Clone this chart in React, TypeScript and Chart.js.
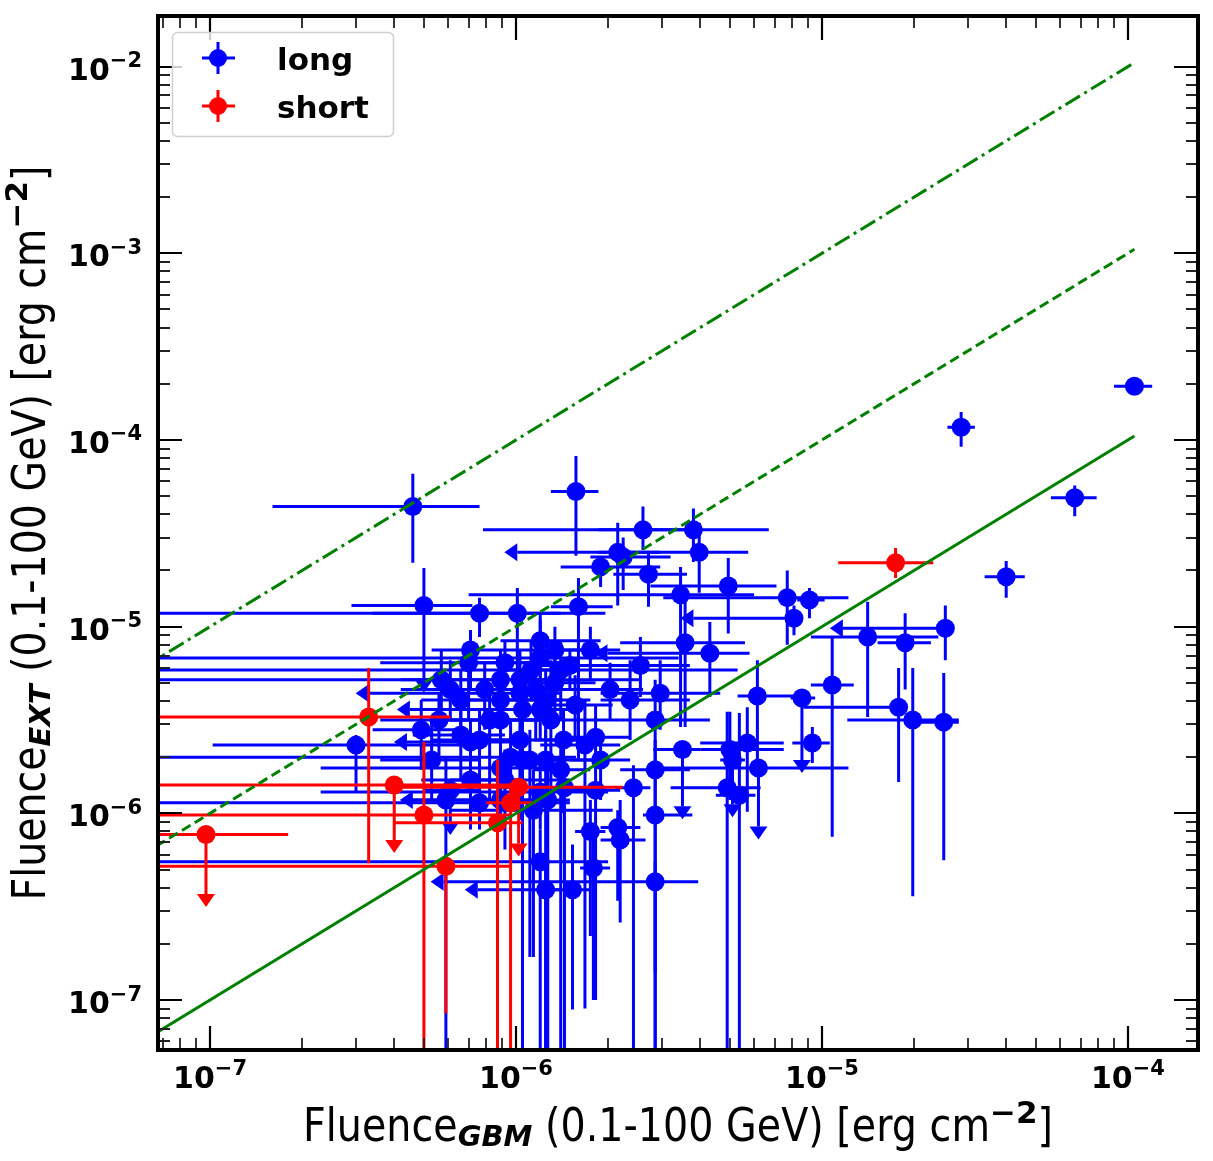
import React, { useEffect, useRef } from "react";
import { Chart, registerables } from "chart.js";

Chart.register(...registerables);

// ---------------- data: long GRBs ----------------
const longX = [1.05e-4, 2.85e-5, 6.7e-5, 4.0e-5, 4.6e-7, 1.57e-6, 2.6e-6, 3.8e-6, 2.15e-6, 2.24e-6,
  1.89e-6, 3.97e-6, 2.71e-6, 4.94e-6, 3.45e-6, 5.0e-7, 7.6e-7, 1.01e-6, 1.6e-6, 3.57e-6,
  4.3e-6, 1.41e-5, 1.87e-5, 2.53e-5, 7.7e-6, 9.1e-6, 8.1e-6, 1.08e-5, 6.15e-6, 8.6e-6,
  1.78e-5, 1.98e-5, 2.5e-5, 9.3e-6, 3.5e-6, 5.0e-6, 5.7e-6, 6.2e-6, 4.9e-6, 5.37e-6,
  5.1e-6, 2.85e-6, 2.96e-6, 2.85e-6, 2.85e-6, 2.85e-6, 2.42e-6, 2.19e-6, 1.79e-6, 1.25e-6,
  1.53e-6, 1.82e-6, 1.75e-6, 2.15e-6, 1.14e-6, 7.0e-7, 1.2e-6, 1.4e-6, 8.9e-7, 9.6e-7,
  7.6e-7, 1.2e-6, 3.0e-7, 1.03e-6, 1.2e-6, 7.1e-7, 6.6e-7, 8.2e-7, 5.3e-7, 7.1e-7,
  1.16e-6, 1.3e-6, 1.03e-6, 1.25e-6, 9.2e-7, 1.4e-6, 1.68e-6, 5.6e-7, 8.9e-7, 7.6e-7,
  1.12e-6, 6.1e-7, 1.82e-6, 2.36e-6, 2.55e-6, 1.5e-6, 5.9e-7, 1.05e-6, 1.27e-6, 1.44e-6,
  8.9e-7, 6.1e-7, 8.9e-7, 1.2e-6, 1.34e-6, 1.05e-6, 1.56e-6, 9.2e-7, 4.9e-7,
  7.1e-7, 1.2e-6, 1.34e-6, 1.25e-6, 8.9e-7, 6.6e-7, 1.03e-6, 7.9e-7, 1.11e-6, 1.43e-6,
  1.89e-6, 2.03e-6, 5.7e-7, 1.75e-6];
const longY = [1.94e-4, 1.17e-4, 4.9e-5, 1.85e-5, 4.4e-5, 5.3e-5, 3.3e-5, 3.3e-5, 2.5e-5, 2.36e-5,
  2.09e-5, 2.5e-5, 1.91e-5, 1.65e-5, 1.48e-5, 1.3e-5, 1.18e-5, 1.18e-5, 1.28e-5, 8.2e-6,
  7.2e-6, 8.8e-6, 8.2e-6, 9.8e-6, 1.43e-5, 1.39e-5, 1.11e-5, 4.87e-6, 4.25e-6, 4.15e-6,
  3.7e-6, 3.16e-6, 3.08e-6, 2.38e-6, 2.2e-6, 2.2e-6, 2.38e-6, 1.75e-6, 1.37e-6, 1.25e-6,
  1.93e-6, 3.16e-6, 4.4e-6, 1.71e-6, 9.8e-7, 4.3e-7, 1.37e-6, 7.2e-7, 5.1e-7, 3.9e-7,
  3.9e-7, 2.56e-6, 8.0e-7, 8.4e-7, 1.04e-6, 6.4e-6, 6.8e-6, 5.86e-6, 5.2e-6, 2.0e-6,
  1.14e-6, 5.5e-7, 2.32e-6, 4.4e-6, 3.6e-6, 2.41e-6, 4.05e-6, 3.16e-6, 1.93e-6, 1.51e-6,
  4.6e-6, 3.16e-6, 2.47e-6, 1.93e-6, 1.51e-6, 1.71e-6, 2.32e-6, 3.16e-6, 4.05e-6, 2.47e-6,
  5.86e-6, 4.6e-6, 1.33e-6, 4.05e-6, 6.2e-6, 6.2e-6, 1.18e-6, 1.93e-6, 1.18e-6, 1.37e-6,
  1.18e-6, 1.33e-6, 1.75e-6, 1.3e-6, 5.0e-6, 3.6e-6, 3.8e-6, 6.4e-6, 2.8e-6,
  7.5e-6, 8.4e-6, 7.5e-6, 4.05e-6, 3.16e-6, 2.63e-6, 5.2e-6, 4.6e-6, 1.93e-6, 2.47e-6,
  1.93e-6, 4.6e-6, 5.2e-6, 7.5e-6];
const longXLo = [9.0e-5, 2.57e-5, 5.6e-5, 3.4e-5, 1.6e-7, 1.3e-6, 1.86e-6, 7.8e-7, 1.86e-6, 1.75e-6,
  1.4e-6, 1.01e-6, 2.08e-6, 2.75e-6, 7.0e-7, 2.9e-7, 3e-8, 3.4e-7, 1.3e-6, 2.19e-6,
  1.99e-6, 9.2e-6, 1.52e-5, 1.17e-5, 3.03e-6, 8.3e-6, 3.8e-6, 9.2e-6, 5.3e-6, 7.9e-6,
  8.7e-6, 1.21e-5, 2.1e-5, 8.0e-6, 2.81e-6, 4.0e-6, 4.0e-6, 2.75e-6, 3.2e-6, 4.5e-6,
  4.65e-6, 2.19e-6, 1.89e-6, 2.19e-6, 2.6e-6, 5.8e-7, 2.11e-6, 1.89e-6, 1.62e-6, 7.5e-7,
  1.34e-6, 1.4e-6, 1.56e-6, 1.89e-6, 6.1e-7, 3.6e-7, 3e-8, 3e-8, 3e-8, 3e-8,
  3e-8, 3e-8, 1.02e-7, 3.3e-7, 4.5e-7, 4.4e-7, 4.9e-7, 5.7e-7, 3.6e-7, 4.9e-7,
  7.6e-7, 8.9e-7, 7.1e-7, 8.9e-7, 6.1e-7, 1.14e-6, 1.2e-6, 3.6e-7, 6.6e-7, 5.3e-7,
  8.9e-7, 4.2e-7, 1.5e-6, 1.89e-6, 1.89e-6, 1.11e-6, 4.4e-7, 8.9e-7, 1.05e-6, 1.25e-6,
  4.6e-7, 5.0e-7, 2.3e-7, 2.3e-7, 1.02e-6, 7.6e-7, 1.2e-6, 6.6e-7, 3.4e-7,
  5.3e-7, 8.9e-7, 1.03e-6, 9.2e-7, 6.1e-7, 4.6e-7, 7.6e-7, 5.7e-7, 8.9e-7, 1.14e-6,
  1.5e-6, 1.6e-6, 4.2e-7, 1.4e-6];
const longXHi = [1.2e-4, 3.16e-5, 7.9e-5, 4.6e-5, 7.6e-7, 1.86e-6, 3.7e-6, 6.7e-6, 2.96e-6, 3.2e-6,
  2.96e-6, 5.74e-6, 3.62e-6, 7.1e-6, 6.0e-6, 7.2e-7, 1.96e-6, 1.4e-6, 2.07e-6, 5.6e-6,
  5.8e-6, 2.4e-5, 2.27e-5, 2.53e-5, 1.22e-5, 1.02e-5, 8.1e-6, 1.27e-5, 8.9e-6, 9.5e-6,
  1.8e-5, 2.8e-5, 2.8e-5, 1.06e-5, 4.0e-6, 7.5e-6, 7.5e-6, 1.22e-5, 6.3e-6, 6.06e-6,
  5.6e-6, 4.3e-6, 4.65e-6, 3.7e-6, 3.77e-6, 3.94e-6, 2.75e-6, 2.65e-6, 2.03e-6, 1.4e-6,
  1.75e-6, 2.36e-6, 1.96e-6, 2.55e-6, 2.07e-6, 1.4e-6, 3.4e-6, 5.3e-6, 2.55e-6, 1.57e-6,
  1.5e-6, 2.0e-6, 8.0e-7, 1.4e-6, 1.6e-6, 1.0e-6, 9.6e-7, 1.2e-6, 7.6e-7, 1.03e-6,
  1.89e-6, 2.19e-6, 1.6e-6, 1.82e-6, 1.5e-6, 1.75e-6, 2.19e-6, 8.9e-7, 1.4e-6, 1.1e-6,
  1.5e-6, 8.9e-7, 2.19e-6, 3.7e-6, 3.7e-6, 2.03e-6, 8.2e-7, 1.3e-6, 1.5e-6, 1.68e-6,
  1.3e-6, 7.6e-7, 1.4e-6, 2.0e-6, 1.82e-6, 1.5e-6, 2.07e-6, 1.3e-6, 6.6e-7,
  1.03e-6, 1.89e-6, 1.75e-6, 1.75e-6, 1.25e-6, 9.2e-7, 1.4e-6, 1.1e-6, 1.4e-6, 1.82e-6,
  2.36e-6, 2.6e-6, 7.6e-7, 2.19e-6];
const longYLo = [1.76e-4, 9.2e-5, 3.9e-5, 1.43e-5, 2.2e-5, 2.4e-5, 2.57e-5, 2.22e-5, 1.3e-5, 1.57e-5,
  1.63e-5, 1.52e-5, 1.28e-5, 9.2e-6, 2.9e-6, 5.2e-6, 8.8e-6, 5.0e-6, 1.93e-6, 2.9e-6,
  4.2e-6, 3.28e-6, 4.6e-6, 6.6e-6, 8.0e-6, 1.11e-5, 9.0e-6, 7.5e-7, 1.93e-6, 1.93e-6,
  1.47e-6, 3.6e-7, 5.6e-7, 1.86e-6, 1.09e-6, 1.18e-6, 1.02e-6, 8.5e-7, 3e-8, 3e-8,
  1.12e-6, 1.33e-6, 2.8e-6, 1.4e-7, 3e-8, 3e-8, 3e-8, 2.6e-7, 1.0e-7, 3e-8,
  8.9e-8, 1.71e-6, 2.2e-7, 3.4e-7, 1.7e-7, 3.16e-6, 4.05e-6, 3.16e-6, 2.47e-6, 1.18e-6,
  8.2e-7, 3e-8, 1.29e-6, 3.16e-6, 2.47e-6, 1.71e-6, 2.8e-6, 1.18e-6, 1.18e-6, 8.2e-7,
  2.47e-6, 1.18e-6, 9.2e-7, 3e-8, 6.4e-7, 3e-8, 9.0e-8, 2.0e-6, 2.63e-6, 1.51e-6,
  4.05e-6, 3.16e-6, 1.0e-7, 2.47e-6, 4.2e-6, 4.6e-6, 3e-8, 3e-8, 3e-8, 3e-8,
  8.2e-7, 9.0e-7, 1.18e-6, 8.2e-7, 3.16e-6, 2.2e-6, 2.47e-6, 4.6e-6, 1.71e-6,
  4.6e-6, 5.2e-6, 4.05e-6, 2.47e-6, 1.93e-6, 1.51e-6, 3.16e-6, 2.8e-6, 1.7e-7, 1.0e-6,
  1.18e-6, 3.16e-6, 3.6e-6, 5.2e-6];
const longYHi = [2.15e-4, 1.41e-4, 5.7e-5, 2.25e-5, 6.6e-5, 8.2e-5, 4.4e-5, 4.3e-5, 3.6e-5, 3.0e-5,
  2.36e-5, 3.6e-5, 2.5e-5, 2.33e-5, 2.09e-5, 2.06e-5, 1.43e-5, 1.61e-5, 1.82e-5, 1.36e-5,
  1.06e-5, 1.36e-5, 1.18e-5, 1.3e-5, 2.0e-5, 1.61e-5, 1.3e-5, 8.7e-6, 6.6e-6, 4.15e-6,
  6.0e-6, 6.0e-6, 5.65e-6, 2.9e-6, 2.2e-6, 3.5e-6, 3.7e-6, 1.75e-6, 3.5e-6, 3.45e-6,
  1.93e-6, 5.2e-6, 6.6e-6, 2.47e-6, 1.33e-6, 5.5e-7, 1.81e-6, 1.18e-6, 8.2e-7, 5.6e-7,
  6.8e-7, 3.8e-6, 1.18e-6, 1.04e-6, 1.71e-6, 6.8e-6, 1.09e-5, 8.4e-6, 7.5e-6, 3.16e-6,
  1.51e-6, 8.2e-7, 2.63e-6, 5.86e-6, 5.2e-6, 3.16e-6, 5.86e-6, 4.6e-6, 3.16e-6, 2.47e-6,
  8.4e-6, 6.6e-6, 4.05e-6, 2.8e-6, 2.2e-6, 2.47e-6, 4.05e-6, 4.4e-6, 6.6e-6, 3.6e-6,
  8.4e-6, 6.6e-6, 1.81e-6, 6.6e-6, 8.8e-6, 7.5e-6, 2.0e-6, 2.8e-6, 1.71e-6, 2.0e-6,
  1.51e-6, 1.33e-6, 2.47e-6, 1.81e-6, 7.5e-6, 5.2e-6, 5.5e-6, 8.4e-6, 4.05e-6,
  9.6e-6, 1.18e-5, 1.0e-5, 5.86e-6, 4.6e-6, 3.6e-6, 7.5e-6, 6.4e-6, 2.8e-6, 3.6e-6,
  2.8e-6, 6.4e-6, 7.5e-6, 1.0e-5];
// indices of upper limits (arrow down on y, arrow left on x)
const longYUpperIdx = [15, 29, 34, 37, 40, 91];
const longXUpperIdx = [11, 20, 23, 26, 45, 49, 63, 64, 65, 90];

// ---------------- data: short GRBs ----------------
const shortX = [9.7e-8, 3.3e-7, 4.0e-7, 5.0e-7, 5.9e-7, 8.7e-7, 9.6e-7, 1.02e-6, 1.74e-5];
const shortY = [7.7e-7, 3.28e-6, 1.42e-6, 9.8e-7, 5.2e-7, 8.9e-7, 1.14e-6, 1.38e-6, 2.2e-5];
const shortXLo = [6.5e-8, 3e-8, 3e-8, 3e-8, 3e-8, 4.0e-7, 8.0e-7, 4.2e-7, 1.13e-5];
const shortXHi = [1.8e-7, 6.1e-7, 1.03e-6, 9.6e-7, 9.6e-7, 1.05e-6, 1.16e-6, 2.23e-6, 2.31e-5];
const shortYLo = [3.7e-7, 5.4e-7, 7.2e-7, 3e-8, 8.5e-8, 3e-8, 3e-8, 6.9e-7, 1.82e-5];
const shortYHi = [7.7e-7, 6.0e-6, 1.42e-6, 2.41e-6, 5.85e-7, 1.93e-6, 1.4e-6, 1.38e-6, 2.64e-5];
const shortYUpperIdx = [0, 2, 7];
const shortXUpperIdx: number[] = [];

// ---------------- reference lines (ratio 1, 10, 100) ----------------
const refX = [5e-8, 1.05e-4];
const ref1Y = [5e-8, 1.05e-4];
const ref10Y = [5e-7, 1.05e-3];
const ref100Y = [5e-6, 1.05e-2];

// axis limits
const X_MIN = 6.76e-8;
const X_MAX = 1.694e-4;
const Y_MIN = 5.4e-8;
const Y_MAX = 1.866e-2;
const xDecades = [-7, -6, -5, -4];
const yDecades = [-7, -6, -5, -4, -3, -2];

const BLUE = "#0000ff";
const RED = "#ff0000";
const GREEN = "#008000";
const FONT = "'DejaVu Sans', 'Noto Sans', sans-serif";

type ErrSet = {
  x: number[]; y: number[]; xLo: number[]; xHi: number[]; yLo: number[]; yHi: number[];
  yUp: number[]; xUp: number[]; color: string;
};

const errSets: Record<string, ErrSet> = {
  long: { x: longX, y: longY, xLo: longXLo, xHi: longXHi, yLo: longYLo, yHi: longYHi, yUp: longYUpperIdx, xUp: longXUpperIdx, color: BLUE },
  short: { x: shortX, y: shortY, xLo: shortXLo, xHi: shortXHi, yLo: shortYLo, yHi: shortYHi, yUp: shortYUpperIdx, xUp: shortXUpperIdx, color: RED },
};

const errorBarPlugin = {
  id: "errbars",
  beforeDatasetDraw(chart: any, args: any) {
    const ds = chart.data.datasets[args.index];
    const e = errSets[ds.label];
    if (!e) return;
    const { ctx, chartArea: a } = chart;
    const xs = chart.scales.x, ys = chart.scales.y;
    ctx.save();
    ctx.beginPath();
    ctx.rect(a.left, a.top, a.right - a.left, a.bottom - a.top);
    ctx.clip();
    ctx.strokeStyle = e.color;
    ctx.fillStyle = e.color;
    ctx.lineWidth = 3;
    ctx.lineCap = "butt";
    for (let i = 0; i < e.x.length; i++) {
      const px = xs.getPixelForValue(e.x[i]);
      const py = ys.getPixelForValue(e.y[i]);
      const x0 = xs.getPixelForValue(e.xLo[i]);
      const x1 = xs.getPixelForValue(e.xHi[i]);
      const y0 = ys.getPixelForValue(e.yLo[i]);
      const y1 = ys.getPixelForValue(e.yHi[i]);
      ctx.beginPath();
      ctx.moveTo(x0, py); ctx.lineTo(x1, py);
      ctx.moveTo(px, y0); ctx.lineTo(px, y1);
      ctx.stroke();
    }
    for (const i of e.yUp) {
      const px = xs.getPixelForValue(e.x[i]);
      const y0 = ys.getPixelForValue(e.yLo[i]);
      ctx.beginPath();
      ctx.moveTo(px - 9, y0); ctx.lineTo(px + 9, y0); ctx.lineTo(px, y0 + 13); ctx.closePath();
      ctx.fill();
    }
    for (const i of e.xUp) {
      const py = ys.getPixelForValue(e.y[i]);
      const x0 = xs.getPixelForValue(e.xLo[i]);
      ctx.beginPath();
      ctx.moveTo(x0, py - 9); ctx.lineTo(x0, py + 9); ctx.lineTo(x0 - 13, py); ctx.closePath();
      ctx.fill();
    }
    ctx.restore();
  },
};

type Seg = { t: string; f: string; main?: boolean; dy: number };

function drawRich(ctx: CanvasRenderingContext2D, segs: Seg[], target: number) {
  let mainW = 0, other = 0;
  const widths = segs.map((s) => { ctx.font = s.f; const w = ctx.measureText(s.t).width; if (s.main) mainW += w; else other += w; return w; });
  const sx = (target - other) / mainW;
  let cur = -target / 2;
  segs.forEach((s, i) => {
    ctx.font = s.f;
    ctx.save();
    ctx.translate(cur, s.dy);
    if (s.main) ctx.scale(sx, 1);
    ctx.fillText(s.t, 0, 0);
    ctx.restore();
    cur += s.main ? widths[i] * sx : widths[i];
  });
}

function titleSegs(sub: string): Seg[] {
  return [
    { t: "Fluence", f: `46px ${FONT}`, main: true, dy: 0 },
    { t: sub, f: `italic bold 29px ${FONT}`, dy: 5 },
    { t: " (0.1-100 GeV) [erg cm", f: `46px ${FONT}`, main: true, dy: 0 },
    { t: "\u22122", f: `bold 31px ${FONT}`, dy: -18 },
    { t: "]", f: `46px ${FONT}`, main: true, dy: 0 },
  ];
}

const decorPlugin = {
  id: "decor",
  afterDraw(chart: any) {
    const { ctx, chartArea: a } = chart;
    const xs = chart.scales.x, ys = chart.scales.y;
    ctx.save();
    for (let n = -9; n <= -1; n++) {
      for (let k = 1; k <= 9; k++) {
        const v = k * Math.pow(10, n);
        const major = k === 1;
        const len = major ? 24 : 12;
        ctx.lineWidth = major ? 2.2 : 1.8;
        ctx.strokeStyle = major ? "#000" : "#222";
        if (v >= X_MIN && v <= X_MAX) {
          const px = Math.round(xs.getPixelForValue(v));
          ctx.beginPath();
          ctx.moveTo(px, a.bottom); ctx.lineTo(px, a.bottom - len);
          ctx.moveTo(px, a.top); ctx.lineTo(px, a.top + len);
          ctx.stroke();
        }
        if (v >= Y_MIN && v <= Y_MAX) {
          const py = Math.round(ys.getPixelForValue(v));
          ctx.beginPath();
          ctx.moveTo(a.left, py); ctx.lineTo(a.left + len, py);
          ctx.moveTo(a.right, py); ctx.lineTo(a.right - len, py);
          ctx.stroke();
        }
      }
    }
    ctx.lineWidth = 4;
    ctx.strokeStyle = "#000";
    ctx.strokeRect(a.left, a.top, a.right - a.left, a.bottom - a.top);

    ctx.fillStyle = "#000";
    ctx.textBaseline = "alphabetic";
    ctx.textAlign = "left";
    const bigF = `bold 30px ${FONT}`;
    const supF = `bold 21px ${FONT}`;
    const measure = (n: number) => {
      ctx.font = bigF; const w1 = ctx.measureText("10").width;
      ctx.font = supF; const w2 = ctx.measureText("\u2212" + Math.abs(n)).width;
      return [w1, w2];
    };
    for (const n of xDecades) {
      const px = xs.getPixelForValue(Math.pow(10, n));
      const [w1, w2] = measure(n);
      const s = px - (w1 + w2) / 2;
      ctx.font = bigF; ctx.fillText("10", s, 1088);
      ctx.font = supF; ctx.fillText("\u2212" + Math.abs(n), s + w1, 1075);
    }
    for (const n of yDecades) {
      const py = ys.getPixelForValue(Math.pow(10, n));
      const [w1, w2] = measure(n);
      const s = 142 - (w1 + w2);
      ctx.font = bigF; ctx.fillText("10", s, py + 13);
      ctx.font = supF; ctx.fillText("\u2212" + Math.abs(n), s + w1, py + 0.5);
    }

    ctx.save();
    ctx.translate((a.left + a.right) / 2, 1141);
    drawRich(ctx, titleSegs("GBM"), 750);
    ctx.restore();
    ctx.save();
    ctx.translate(45, (a.top + a.bottom) / 2);
    ctx.rotate(-Math.PI / 2);
    drawRich(ctx, titleSegs("EXT"), 735);
    ctx.restore();

    ctx.beginPath();
    if ((ctx as any).roundRect) (ctx as any).roundRect(172.5, 32.5, 221, 104, 5);
    else ctx.rect(172.5, 32.5, 221, 104);
    ctx.fillStyle = "rgba(255,255,255,0.8)";
    ctx.fill();
    ctx.lineWidth = 1.5;
    ctx.strokeStyle = "#d0d0d0";
    ctx.stroke();
    const entries: [string, string, number][] = [["long", BLUE, 58], ["short", RED, 106]];
    for (const [lab, col, cy] of entries) {
      ctx.strokeStyle = col; ctx.fillStyle = col; ctx.lineWidth = 3;
      ctx.beginPath();
      ctx.moveTo(202, cy); ctx.lineTo(235, cy);
      ctx.moveTo(218, cy - 16); ctx.lineTo(218, cy + 16);
      ctx.stroke();
      ctx.beginPath(); ctx.arc(218, cy, 9, 0, Math.PI * 2); ctx.fill();
      ctx.fillStyle = "#000";
      ctx.font = `bold 31px ${FONT}`;
      ctx.fillText(lab, 277, cy + 12);
    }
    ctx.restore();
  },
};

export default function App() {
  const ref = useRef<HTMLCanvasElement | null>(null);
  useEffect(() => {
    if (!ref.current) return;
    const pts = (xs: number[], ys: number[]) => xs.map((x, i) => ({ x, y: ys[i] }));
    const chart = new Chart(ref.current, {
      type: "scatter",
      data: {
        datasets: [
          { label: "long", data: pts(longX, longY), pointRadius: 9.5, pointBackgroundColor: BLUE, pointBorderWidth: 0, borderWidth: 0, order: 3 } as any,
          { label: "short", data: pts(shortX, shortY), pointRadius: 9.5, pointBackgroundColor: RED, pointBorderWidth: 0, borderWidth: 0, order: 2 } as any,
          { label: "ratio1", data: pts(refX, ref1Y), showLine: true, borderColor: GREEN, borderWidth: 3, pointRadius: 0, order: 1 } as any,
          { label: "ratio10", data: pts(refX, ref10Y), showLine: true, borderColor: GREEN, borderWidth: 3, borderDash: [10, 5], pointRadius: 0, order: 1 } as any,
          { label: "ratio100", data: pts(refX, ref100Y), showLine: true, borderColor: GREEN, borderWidth: 3, borderDash: [17, 5, 3, 5], pointRadius: 0, order: 1 } as any,
        ],
      },
      options: {
        responsive: false,
        animation: false,
        devicePixelRatio: 1,
        events: [],
        layout: { padding: { left: 158, top: 16, right: 15, bottom: 111 } },
        plugins: { legend: { display: false }, tooltip: { enabled: false } },
        scales: {
          x: { type: "logarithmic", min: X_MIN, max: X_MAX, display: false, bounds: "data" } as any,
          y: { type: "logarithmic", min: Y_MIN, max: Y_MAX, display: false, bounds: "data" } as any,
        },
      },
      plugins: [errorBarPlugin, decorPlugin],
    });
    return () => chart.destroy();
  }, []);
  return (
    <div style={{ position: "absolute", left: 0, top: 0, width: 1213, height: 1161, background: "#fff" }}>
      <canvas ref={ref} width={1213} height={1161} style={{ display: "block" }} />
    </div>
  );
}
